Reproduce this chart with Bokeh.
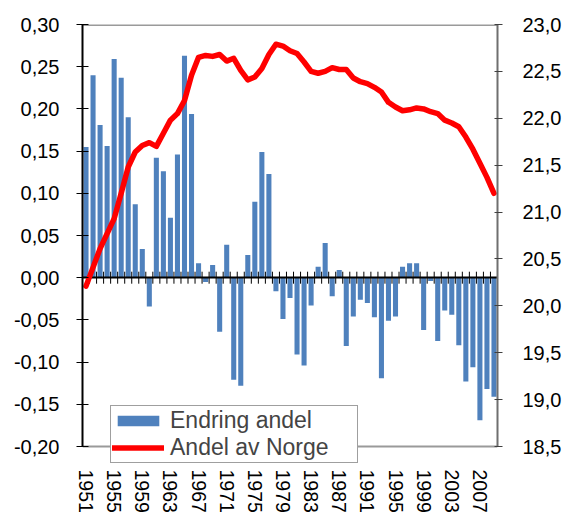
import math
from bokeh.plotting import figure
from bokeh.models import (Range1d, LinearAxis, FixedTicker, Legend, LegendItem,
                          CustomJSTickFormatter)
from bokeh.embed import file_html
from bokeh.resources import INLINE

# ---- data ----
years = list(range(1951, 2010))
endring_andel = [0.155, 0.240, 0.181, 0.156, 0.259, 0.237, 0.190, 0.087, 0.034, -0.034,
                 0.142, 0.126, 0.071, 0.146, 0.263, 0.194, 0.017, -0.005, 0.015, -0.064,
                 0.039, -0.121, -0.128, 0.027, 0.090, 0.149, 0.123, -0.016, -0.049, -0.024,
                 -0.091, -0.104, -0.033, 0.013, 0.041, -0.022, 0.009, -0.081, -0.046, -0.026,
                 -0.030, -0.047, -0.119, -0.051, -0.046, 0.013, 0.017, 0.017, -0.062, -0.004,
                 -0.075, -0.039, -0.044, -0.080, -0.123, -0.106, -0.169, -0.132, -0.141]
andel_av_norge = [20.21, 20.41, 20.61, 20.77, 20.93, 21.20, 21.48, 21.64, 21.71, 21.74,
                  21.70, 21.84, 21.98, 22.05, 22.19, 22.46, 22.65, 22.67, 22.66, 22.68,
                  22.61, 22.64, 22.51, 22.41, 22.44, 22.53, 22.68, 22.79, 22.77, 22.72,
                  22.69, 22.60, 22.50, 22.48, 22.50, 22.54, 22.52, 22.52, 22.43, 22.39,
                  22.37, 22.33, 22.28, 22.17, 22.12, 22.08, 22.09, 22.11, 22.10, 22.07,
                  22.05, 21.98, 21.95, 21.91, 21.80, 21.67, 21.52, 21.37, 21.20]
left_ticks = [-0.20, -0.15, -0.10, -0.05, 0.00, 0.05, 0.10, 0.15, 0.20, 0.25, 0.30]
right_ticks = [18.5, 19.0, 19.5, 20.0, 20.5, 21.0, 21.5, 22.0, 22.5, 23.0]
year_ticks = list(range(1951, 2010, 4))
series_labels = ["Endring andel", "Andel av Norge"]

FONT = "Liberation Sans"

# plotting area: 422 px for the value span, plus an 18 px strip below it
# so that the legend (which overlaps the bottom edge) is not clipped
AXIS_PX = 422
EXTRA_PX = 18
left_span = left_ticks[-1] - left_ticks[0]
right_span = right_ticks[-1] - right_ticks[0]

p = figure(frame_width=415, frame_height=AXIS_PX + EXTRA_PX,
           min_border_left=82, min_border_top=24, min_border_right=70, min_border_bottom=49,
           x_range=Range1d(years[0] - 0.5, years[-1] + 0.5),
           y_range=Range1d(left_ticks[0] - left_span * EXTRA_PX / AXIS_PX, left_ticks[-1]),
           output_backend="svg", toolbar_location=None)
p.extra_y_ranges = {"right": Range1d(right_ticks[0] - right_span * EXTRA_PX / AXIS_PX,
                                     right_ticks[-1])}
p.xgrid.visible = False
p.ygrid.visible = False
p.outline_line_color = None
p.background_fill_color = "white"
p.border_fill_color = "white"

# left axis
ya = p.yaxis[0]
ya.bounds = (left_ticks[0], left_ticks[-1])
ya.ticker = FixedTicker(ticks=left_ticks)
ya.formatter = CustomJSTickFormatter(code="return tick.toFixed(2).replace('.', ',');")
ya.axis_line_color = "black"
ya.axis_line_width = 2
ya.major_tick_in = 6
ya.major_tick_out = 6
ya.major_tick_line_color = "black"
ya.minor_tick_line_color = None
ya.major_label_text_font = FONT
ya.major_label_text_font_size = "20px"
ya.major_label_text_color = "black"
ya.major_label_standoff = 17

# right axis
ry = LinearAxis(y_range_name="right")
ry.bounds = (right_ticks[0], right_ticks[-1])
ry.ticker = FixedTicker(ticks=right_ticks)
ry.formatter = CustomJSTickFormatter(code="return tick.toFixed(1).replace('.', ',');")
ry.axis_line_color = "#6f6f6f"
ry.axis_line_width = 2
ry.major_tick_in = 3
ry.major_tick_out = 5
ry.major_tick_line_color = "#404040"
ry.minor_tick_line_color = None
ry.major_label_text_font = FONT
ry.major_label_text_font_size = "20px"
ry.major_label_text_color = "black"
ry.major_label_standoff = 20
p.add_layout(ry, "right")

# bottom axis
xa = p.xaxis[0]
xa.ticker = FixedTicker(ticks=year_ticks)
xa.formatter = CustomJSTickFormatter(code="return tick.toFixed(0);")
xa.axis_line_color = None
xa.major_tick_line_color = None
xa.minor_tick_line_color = None
xa.major_tick_in = 0
xa.major_tick_out = 0
xa.major_label_orientation = -math.pi / 2
xa.major_label_text_font = FONT
xa.major_label_text_font_size = "19.5px"
xa.major_label_text_color = "black"
xa.major_label_standoff = 5

# plot-area border lines (top and bottom of the value span)
p.hspan(y=[left_ticks[-1]], line_color="#9a9a9a", line_width=3)
p.hspan(y=[left_ticks[0]], line_color="#9a9a9a", line_width=2)

bars = p.vbar(x=years, top=endring_andel, width=0.72, fill_color="#4F81BD", line_color=None)
p.hspan(y=[0], line_color="black", line_width=2)
bounds = [y - 0.5 for y in years] + [years[-1] + 0.5]
p.scatter(x=bounds, y=[0] * len(bounds), marker="dash", angle=math.pi / 2, size=12,
          line_color="black", line_width=1)
red = p.line(x=years, y=andel_av_norge, y_range_name="right", line_color="#FF0000",
             line_width=5.5, line_join="round", line_cap="round")

legend = Legend(items=[LegendItem(label=series_labels[0], renderers=[bars]),
                       LegendItem(label=series_labels[1], renderers=[red])],
                location=(28, EXTRA_PX - 17), orientation="vertical",
                label_text_font=FONT, label_text_font_size="23px",
                glyph_width=52, glyph_height=13, label_standoff=6,
                padding=1, spacing=0, label_height=26, label_width=186,
                margin=0,
                border_line_color="#404040", border_line_width=1,
                background_fill_color="white", background_fill_alpha=1.0)
p.add_layout(legend, "center")

open("out.html", "w").write(file_html(p, INLINE))
